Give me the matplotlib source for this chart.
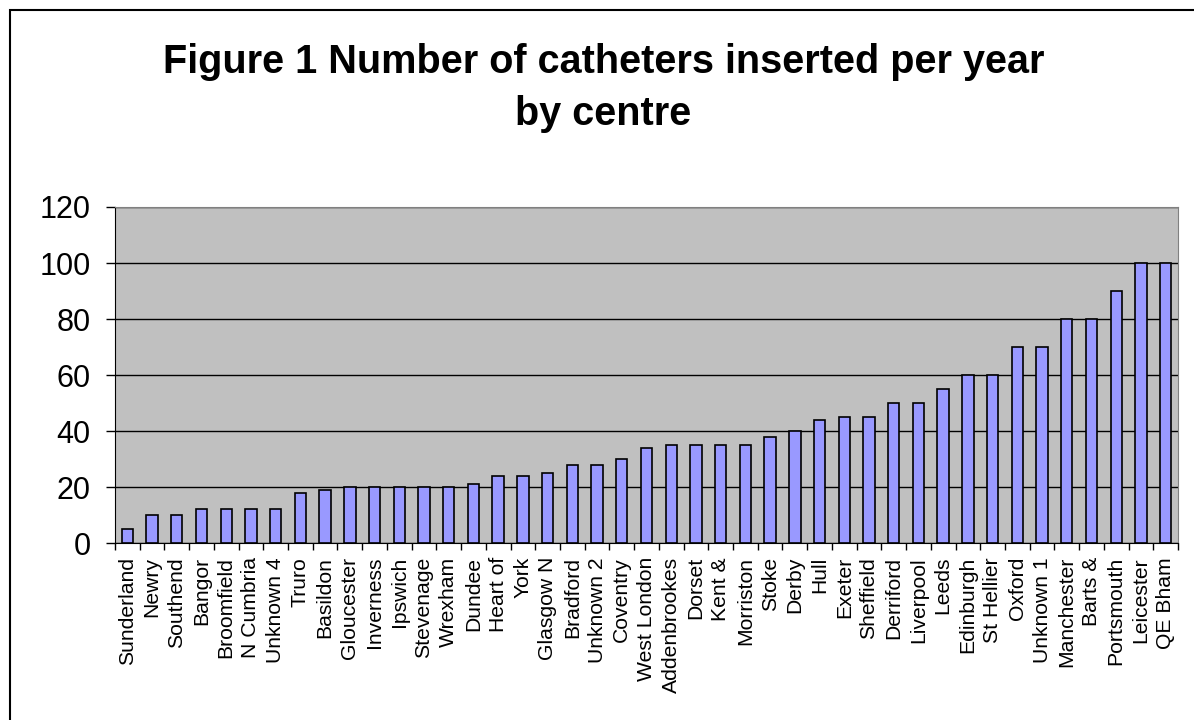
import matplotlib.pyplot as plt
import numpy as np
from matplotlib.patches import Rectangle

# centres and catheters per year
centres = ["Sunderland", "Newry", "Southend", "Bangor", "Broomfield", "N Cumbria",
           "Unknown 4", "Truro", "Basildon", "Gloucester", "Inverness", "Ipswich",
           "Stevenage", "Wrexham", "Dundee", "Heart of", "York", "Glasgow N",
           "Bradford", "Unknown 2", "Coventry", "West London", "Addenbrookes",
           "Dorset", "Kent &", "Morriston", "Stoke", "Derby", "Hull", "Exeter",
           "Sheffield", "Derriford", "Liverpool", "Leeds", "Edinburgh", "St Hellier",
           "Oxford", "Unknown 1", "Manchester", "Barts &", "Portsmouth", "Leicester",
           "QE Bham"]
catheters = [5, 10, 10, 12, 12, 12, 12, 18, 19, 20, 20, 20, 20, 20, 21, 24, 24, 25,
             28, 28, 30, 34, 35, 35, 35, 35, 38, 40, 44, 45, 45, 50, 50, 55, 60, 60,
             70, 70, 80, 80, 90, 100, 100]
yticks = [0, 20, 40, 60, 80, 100, 120]

plt.rcParams['font.family'] = ['Liberation Sans', 'DejaVu Sans']

fig = plt.figure(figsize=(11.94, 7.2), dpi=100)
ax = fig.add_axes([0.0963, 0.2458, 0.8903, 0.4667])

x = np.arange(len(centres))
ax.set_facecolor('#C0C0C0')
ax.bar(x, catheters, width=0.46, color='#9999FF', edgecolor='black', linewidth=1.2, zorder=3)

ax.set_ylim(0, 120)
ax.set_xlim(-0.5, len(centres) - 0.5)
ax.set_yticks(yticks)
ax.set_yticklabels([str(v) for v in yticks], fontsize=22)
ax.yaxis.grid(True, color='black', linewidth=1.0, zorder=1)
ax.set_axisbelow(True)
ax.tick_params(axis='y', direction='out', length=6.5, width=1, pad=11)

ax.set_xticks(x)
ax.set_xticklabels(centres, rotation=90, fontsize=15.2, va='top')
ax.tick_params(axis='x', which='major', length=0, pad=10)
ax.set_xticks(np.arange(-0.5, len(centres), 1), minor=True)
ax.tick_params(axis='x', which='minor', direction='out', length=5, width=1)

ax.spines['left'].set_color('black')
ax.spines['bottom'].set_color('black')
ax.spines['top'].set_color('#808080')
ax.spines['right'].set_color('#808080')

# title, two lines placed by baseline
fig.text(0.5055, 1 - 73 / 720, "Figure 1 Number of catheters inserted per year",
         ha='center', va='baseline', fontsize=28.5, fontweight='bold')
fig.text(0.5055, 1 - 125 / 720, "by centre",
         ha='center', va='baseline', fontsize=28.5, fontweight='bold')

# chart border (only the left and top edges fall inside the picture)
fig.patches.append(Rectangle((10 / 1194, -0.1), 1.2, 1.1 - 10 / 720, transform=fig.transFigure,
                             fill=False, edgecolor='black', linewidth=1.5))

plt.savefig("out.png", dpi=100)
